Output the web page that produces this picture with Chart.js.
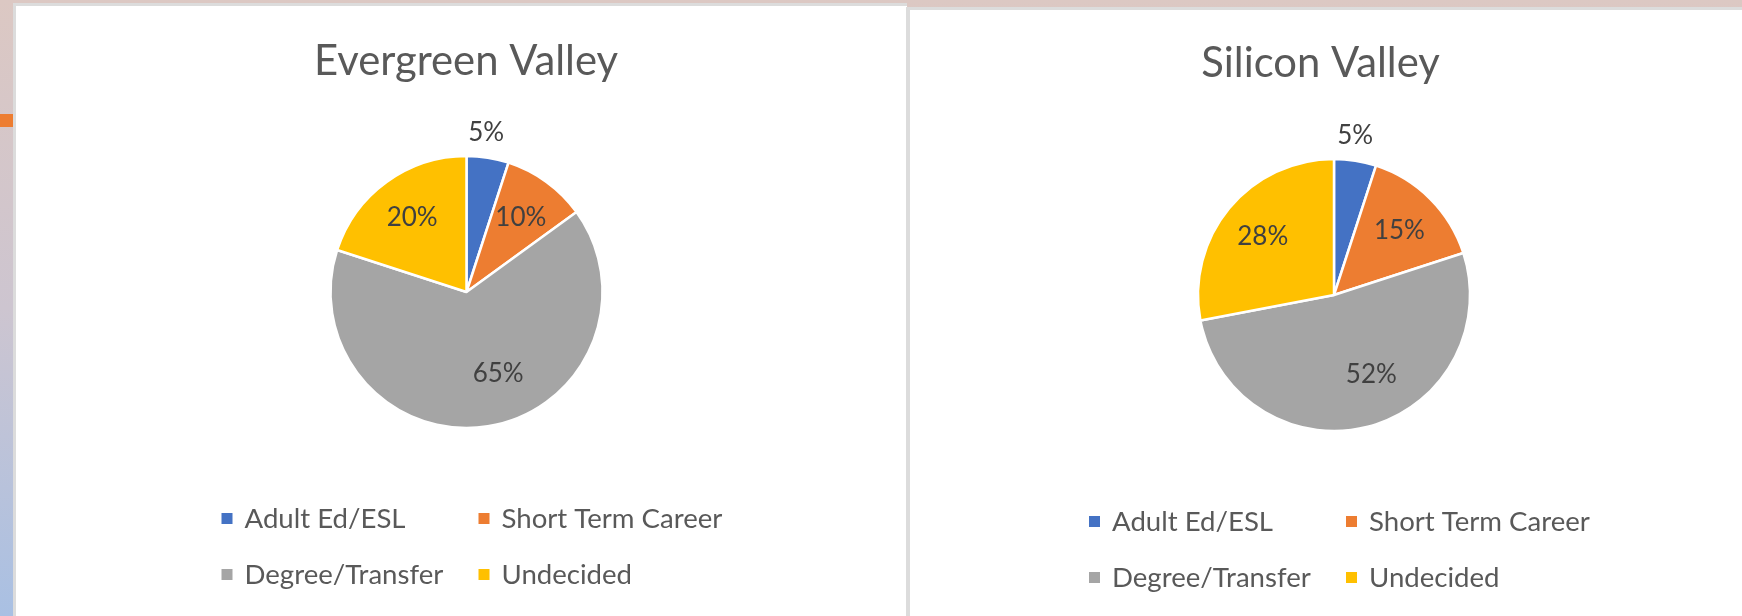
<!DOCTYPE html>
<html>
<head>
<meta charset="utf-8">
<script src="https://cdn.jsdelivr.net/npm/chart.js@4.4.0/dist/chart.umd.min.js"></script>
<style>
html,body{margin:0;padding:0;width:1742px;height:616px;overflow:hidden;}
body{position:relative;background:linear-gradient(to bottom,#dcc8c3 0%,#cdc5d0 50%,#a9c0e3 100%);font-family:Lato,sans-serif;}
.mark{position:absolute;left:0;top:114px;width:13px;height:13px;background:#ed7d31;}
.panel{position:absolute;background:#fff;box-sizing:border-box;border:3px solid #dcdcdc;border-bottom:none;}
#p1{left:13px;top:3px;width:894px;height:613px;border-right:none;}
#p2{left:906px;top:7px;width:840px;height:609px;border-left:4px solid #dcdcdc;border-right:none;}
.wrap{position:absolute;}
#w1{left:16px;top:6px;width:890px;height:610px;}
#w2{left:910px;top:10px;width:832px;height:606px;}
</style>
</head>
<body>
<div class="mark"></div>
<div class="panel" id="p1"></div>
<div class="panel" id="p2"></div>
<div class="wrap" id="w1"><canvas id="c1" width="890" height="610"></canvas></div>
<div class="wrap" id="w2"><canvas id="c2" width="832" height="606"></canvas></div>
<script>
// ---- data ----
const categories = ['Adult Ed/ESL', 'Short Term Career', 'Degree/Transfer', 'Undecided'];
const evergreenValues = [5, 10, 65, 20];
const siliconValues = [5, 15, 52, 28];
const chartTitles = ['Evergreen Valley', 'Silicon Valley'];
const sliceColors = ['#4472C4', '#ED7D31', '#A5A5A5', '#FFC000'];

function fitSize(txt, target){
  const c = document.createElement('canvas').getContext('2d');
  c.font = '100px Lato';
  return 100 * target / c.measureText(txt).width;
}

const decor = {
  id: 'decor',
  afterDatasetsDraw(chart, args, o){
    const ctx = chart.ctx;
    const meta = chart.getDatasetMeta(0);
    const ds = chart.data.datasets[0];
    const cx = meta.data[0].x, cy = meta.data[0].y;
    ctx.save();
    // title
    ctx.fillStyle = '#595959';
    ctx.font = o.titleSize + 'px Lato';
    ctx.textAlign = 'center';
    ctx.textBaseline = 'alphabetic';
    ctx.fillText(o.title, cx + o.titleDx, cy + o.titleDy);
    // data labels
    ctx.font = o.labelSize + 'px Lato';
    ctx.fillStyle = '#404040';
    meta.data.forEach((arc, i) => {
      const p = arc.getProps(['startAngle', 'endAngle', 'outerRadius'], true);
      const a = (p.startAngle + p.endAngle) / 2 + o.labelShift[i] * Math.PI / 180;
      const r = p.outerRadius * o.labelRadius[i];
      ctx.fillText(ds.data[i] + '%', cx + r * Math.cos(a), cy + r * Math.sin(a) + o.labelSize * 0.358);
    });
    // legend (2 x 2 grid)
    ctx.font = o.legendSize + 'px Lato';
    ctx.textAlign = 'left';
    chart.data.labels.forEach((lab, i) => {
      const col = i % 2, row = Math.floor(i / 2);
      const mx = cx + o.legendDx + col * 257;
      const my = cy + o.legendDy + row * 56;
      ctx.fillStyle = ds.backgroundColor[i];
      ctx.fillRect(mx, my - 5.5, 11, 11);
      ctx.fillStyle = '#595959';
      ctx.fillText(lab, mx + 23, my + 9);
    });
    ctx.restore();
  }
};

function build(){
  const TITLE_PX = fitSize('Evergreen Valley', 304);
  const LEGEND_PX = fitSize('Short Term Career', 221);
  const LABEL_PX = fitSize('10%', 51);
  const setups = [
    {id: 'c1', values: evergreenValues, title: chartTitles[0], pad: {left: 11, right: 0, top: 0, bottom: 38},
     titleDx: -0.5, titleDy: -217, labelShift: [-2, 0, -12.5, 0], labelRadius: [1.19, 0.68, 0.635, 0.68]},
    {id: 'c2', values: siliconValues, title: chartTitles[1], pad: {left: 16, right: 0, top: 0, bottom: 36},
     titleDx: -13.5, titleDy: -218, labelShift: [-1.5, 0, -11, 0], labelRadius: [1.19, 0.68, 0.64, 0.68]}
  ];
  setups.forEach(s => {
    new Chart(document.getElementById(s.id), {
      type: 'pie',
      data: {
        labels: categories,
        datasets: [{
          data: s.values,
          backgroundColor: sliceColors,
          borderColor: '#ffffff',
          borderWidth: 2.5,
          radius: 136
        }]
      },
      options: {
        responsive: false,
        animation: false,
        events: [],
        layout: {padding: s.pad},
        plugins: {
          legend: {display: false},
          title: {display: false},
          tooltip: {enabled: false},
          decor: {
            title: s.title, titleSize: TITLE_PX, titleDx: s.titleDx, titleDy: s.titleDy,
            labelSize: LABEL_PX, labelShift: s.labelShift, labelRadius: s.labelRadius,
            legendSize: LEGEND_PX, legendDx: -245, legendDy: 226.5
          }
        }
      },
      plugins: [decor]
    });
  });
}
if (document.fonts && document.fonts.load) {
  document.fonts.load('100px Lato').then(build, build);
} else { build(); }
</script>
</body>
</html>
